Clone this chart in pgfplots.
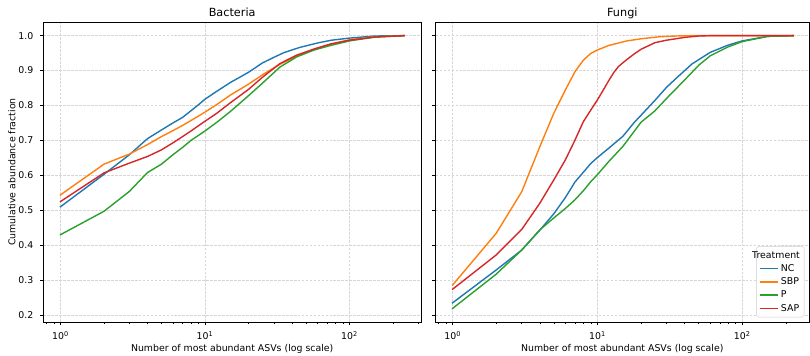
\documentclass[border=0pt]{standalone}
\usepackage{fontspec}
\setmainfont{DejaVu Sans}
\usepackage{pgfplots}
\pgfplotsset{compat=1.18}
\definecolor{cNC}{HTML}{1F77B4}
\definecolor{cSBP}{HTML}{FF7F0E}
\definecolor{cP}{HTML}{2CA02C}
\definecolor{cSAP}{HTML}{D62728}
\definecolor{cFrame}{HTML}{CCCCCC}
\begin{document}
\begin{tikzpicture}
\useasboundingbox (0,0) rectangle (864pt,378.67pt);
\begin{semilogxaxis}[
  scale only axis, height=320pt,
  ymin=0.18, ymax=1.0391,
  ytick={0.2,0.3,0.4,0.5,0.6,0.7,0.8,0.9,1.0},
  xtick={1,10,100},
  xticklabels={10\textsuperscript{0},10\textsuperscript{1},10\textsuperscript{2}},
  minor xtick={0.8,0.9,2,3,4,5,6,7,8,9,20,30,40,50,60,70,80,90,200,300},
  tick align=outside, xtick pos=bottom, ytick pos=left,
  major tick length=3.5pt, minor tick length=2pt,
  tick style={black, line width=0.8pt},
  minor tick style={black, line width=0.6pt},
  axis line style={line width=0.8pt, black},
  xmajorgrids, ymajorgrids,
  major grid style={black!16, line width=0.8pt, dash pattern=on 2.96pt off 1.28pt},
  tick label style={font=\fontsize{10}{12}\selectfont},
  xticklabel style={anchor=base, yshift=-15.2pt},
  yticklabel style={anchor=east, inner sep=0pt, xshift=-7pt},
  xlabel={Number of most abundant ASVs (log scale)},
  xlabel style={at={(axis description cs:0.5,0)}, anchor=base, yshift=-31.5pt, font=\fontsize{10}{12}\selectfont},
  title style={at={(axis description cs:0.5,1)}, anchor=base, yshift=-0.4pt, font=\fontsize{12}{14}\selectfont},
  at={(46.19pt,35.2pt)}, anchor=south west, width=402.9pt,
  xmin=0.7607, xmax=312.6,
  yticklabels={0.2,0.3,0.4,0.5,0.6,0.7,0.8,0.9,1.0},
  ylabel={Cumulative abundance fraction},
  ylabel style={at={(axis description cs:0,0.5)}, anchor=base, yshift=29.7pt, font=\fontsize{10}{12}\selectfont},
  title={Bacteria}]
\addplot[cNC, line width=1.5pt, line cap=rect, line join=round] coordinates {(1,0.510) (2,0.603) (3,0.659) (4,0.705) (5,0.730) (6,0.750) (7,0.766) (8,0.785) (9,0.802) (10,0.818) (12,0.840) (15,0.866) (20,0.895) (25,0.922) (30,0.938) (35,0.951) (45,0.966) (60,0.979) (75,0.987) (100,0.993) (150,0.999) (238,1.0)};
\addplot[cSBP, line width=1.5pt, line cap=rect, line join=round] coordinates {(1,0.544) (2,0.632) (3,0.661) (4,0.688) (5,0.711) (6,0.728) (7,0.743) (8,0.757) (10,0.781) (12,0.802) (15,0.830) (20,0.861) (25,0.888) (33,0.918) (43,0.941) (57,0.961) (74,0.976) (100,0.988) (150,0.997) (238,1.0)};
\addplot[cP, line width=1.5pt, line cap=rect, line join=round] coordinates {(1,0.430) (2,0.497) (3,0.554) (4,0.608) (5,0.632) (6,0.659) (7,0.680) (8,0.700) (10,0.727) (12,0.751) (15,0.783) (20,0.828) (25,0.864) (33,0.910) (43,0.939) (57,0.959) (74,0.972) (100,0.985) (150,0.996) (238,1.0)};
\addplot[cSAP, line width=1.5pt, line cap=rect, line join=round] coordinates {(1,0.525) (2,0.607) (3,0.635) (4,0.654) (5,0.673) (6,0.693) (7,0.711) (8,0.727) (10,0.755) (12,0.777) (15,0.808) (20,0.846) (25,0.881) (33,0.920) (43,0.944) (57,0.962) (74,0.976) (100,0.987) (150,0.996) (238,1.0)};
\end{semilogxaxis}
\begin{semilogxaxis}[
  scale only axis, height=320pt,
  ymin=0.18, ymax=1.0391,
  ytick={0.2,0.3,0.4,0.5,0.6,0.7,0.8,0.9,1.0},
  xtick={1,10,100},
  xticklabels={10\textsuperscript{0},10\textsuperscript{1},10\textsuperscript{2}},
  minor xtick={0.8,0.9,2,3,4,5,6,7,8,9,20,30,40,50,60,70,80,90,200},
  tick align=outside, xtick pos=bottom, ytick pos=left,
  major tick length=3.5pt, minor tick length=2pt,
  tick style={black, line width=0.8pt},
  minor tick style={black, line width=0.6pt},
  axis line style={line width=0.8pt, black},
  xmajorgrids, ymajorgrids,
  major grid style={black!16, line width=0.8pt, dash pattern=on 2.96pt off 1.28pt},
  tick label style={font=\fontsize{10}{12}\selectfont},
  xticklabel style={anchor=base, yshift=-15.2pt},
  xlabel={Number of most abundant ASVs (log scale)},
  xlabel style={at={(axis description cs:0.5,0)}, anchor=base, yshift=-31.5pt, font=\fontsize{10}{12}\selectfont},
  title style={at={(axis description cs:0.5,1)}, anchor=base, yshift=-0.4pt, font=\fontsize{12}{14}\selectfont},
  at={(464.7pt,35.2pt)}, anchor=south west, width=398.2pt,
  xmin=0.7637, xmax=289.1,
  yticklabels={},
  title={Fungi},
  legend cell align=left,
  legend image code/.code={\draw[#1] (0pt,0pt) -- (20pt,0pt);},
  legend style={at={(rel axis cs:1,0)}, anchor=south east, xshift=-5pt, yshift=5pt,
    draw=cFrame, rounded corners=2pt, fill=white,
    font=\fontsize{10}{12}\selectfont, inner xsep=2.5pt, inner ysep=3pt, row sep=1.2pt,
    /tikz/every even column/.style={column sep=2.7pt}}]
\addlegendimage{empty legend}
\addlegendentry{\hspace{-30.7pt}Treatment}
\addlegendimage{color=cNC, line width=1.5pt, sharp corners}
\addlegendentry{NC}
\addlegendimage{color=cSBP, line width=1.5pt, sharp corners}
\addlegendentry{SBP}
\addlegendimage{color=cP, line width=1.5pt, sharp corners}
\addlegendentry{P}
\addlegendimage{color=cSAP, line width=1.5pt, sharp corners}
\addlegendentry{SAP}
\addplot[forget plot, cNC, line width=1.5pt, line cap=rect, line join=round] coordinates {(1,0.235) (2,0.329) (3,0.386) (4,0.443) (5,0.490) (6,0.536) (7,0.581) (8,0.609) (9,0.634) (10,0.651) (12,0.678) (15,0.712) (18,0.752) (20,0.772) (25,0.815) (30,0.852) (35,0.878) (45,0.919) (60,0.952) (80,0.973) (100,0.985) (150,0.998) (225,1.0)};
\addplot[forget plot, cSBP, line width=1.5pt, line cap=rect, line join=round] coordinates {(1,0.286) (2,0.434) (3,0.553) (4,0.682) (5,0.778) (6,0.844) (7,0.897) (8,0.930) (9,0.949) (10,0.959) (12,0.972) (16,0.985) (20,0.991) (27,0.997) (35,0.999) (45,1.0) (225,1.0)};
\addplot[forget plot, cP, line width=1.5pt, line cap=rect, line join=round] coordinates {(1,0.219) (2,0.317) (3,0.386) (4,0.444) (5,0.478) (6,0.505) (7,0.530) (8,0.556) (9,0.582) (10,0.602) (12,0.640) (15,0.683) (20,0.752) (25,0.785) (30,0.820) (40,0.873) (50,0.915) (60,0.942) (80,0.968) (100,0.983) (150,0.998) (225,1.0)};
\addplot[forget plot, cSAP, line width=1.5pt, line cap=rect, line join=round] coordinates {(1,0.274) (2,0.372) (3,0.445) (4,0.520) (5,0.587) (6,0.644) (7,0.701) (8,0.754) (9,0.787) (10,0.816) (11,0.845) (12,0.872) (13,0.895) (14,0.912) (16,0.932) (18,0.948) (20,0.961) (25,0.980) (30,0.987) (40,0.995) (50,0.999) (60,1.0) (225,1.0)};
\end{semilogxaxis}
\end{tikzpicture}
\end{document}
